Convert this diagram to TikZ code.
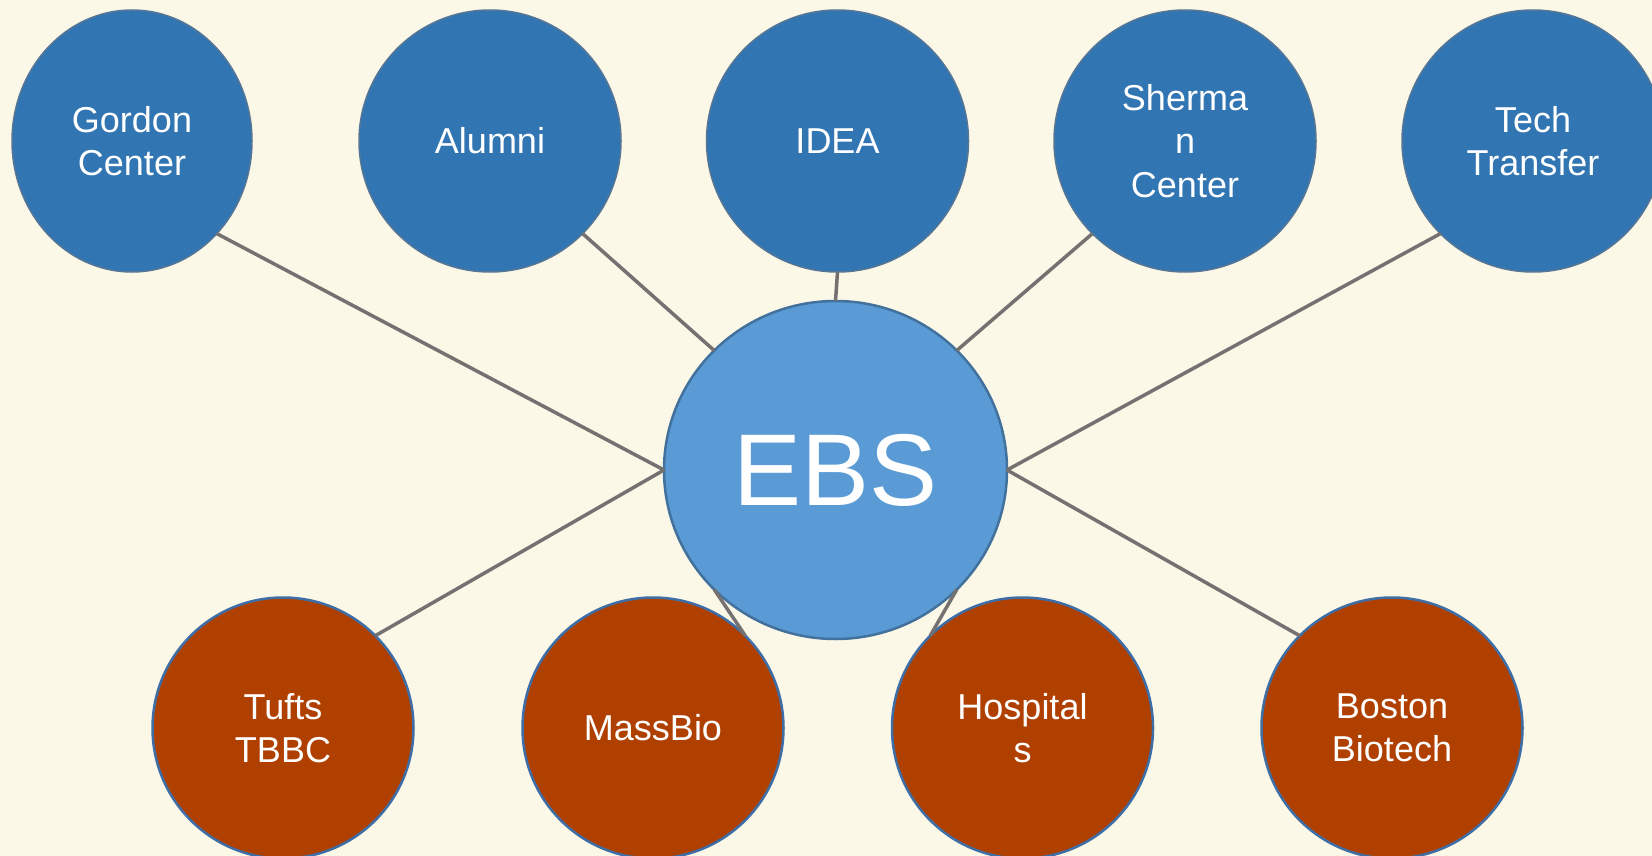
\documentclass[tikz,border=0pt]{standalone}
\usepackage{fontspec}
\setmainfont{Liberation Sans}
\usetikzlibrary{shapes.geometric}
\definecolor{bgcream}{RGB}{252,248,232}
\definecolor{topblue}{RGB}{49,117,178}
\definecolor{topedge}{RGB}{86,118,150}
\definecolor{ebsfill}{RGB}{91,155,213}
\definecolor{ebsedge}{RGB}{65,113,156}
\definecolor{botfill}{RGB}{176,64,0}
\definecolor{botedge}{RGB}{62,110,165}
\definecolor{linkgray}{RGB}{118,113,113}
\tikzset{
  bubble/.style={ellipse, inner sep=0pt, outer sep=0pt, text=white, align=center,
    font=\fontsize{36}{43.3}\selectfont},
  topnode/.style={bubble, fill=topblue, draw=topedge, line width=1.5pt,
    minimum width=262pt, minimum height=262pt},
  botnode/.style={bubble, fill=botfill, draw=botedge, line width=2.5pt,
    minimum width=261pt, minimum height=261pt},
  hubnode/.style={bubble, fill=ebsfill, draw=ebsedge, line width=2.5pt,
    minimum width=343pt, minimum height=338pt, font=\fontsize{102}{110}\selectfont},
  link/.style={draw=linkgray, line width=3.5pt}
}
\begin{document}
\begin{tikzpicture}[x=1pt,y=-1pt]
\useasboundingbox (0,0) rectangle (1652,856);
\clip (0,0) rectangle (1652,856);
\fill[bgcream] (0,0) rectangle (1652,856);

\node[hubnode] (ebs) at (835.5,470) {EBS};

\node[topnode, minimum width=240pt] (gordon) at (132,141) {Gordon\\Center};
\node[topnode] (alumni) at (490,141) {Alumni};
\node[topnode] (idea) at (837.5,141) {IDEA};
\node[topnode] (sherman) at (1185,141) {Sherma\\n\\Center};
\node[topnode] (tech) at (1533,141) {Tech\\Transfer};

\node[botnode] (tufts) at (283,728) {Tufts\\TBBC};
\node[botnode] (massbio) at (653,728) {MassBio};
\node[botnode] (hosp) at (1022.5,728) {Hospital\\s};
\node[botnode] (boston) at (1392,728) {Boston\\Biotech};

\draw[link] (gordon.south east) -- (ebs.west);
\draw[link] (alumni.south east) -- (ebs.north west);
\draw[link] (idea.south) -- (ebs.north);
\draw[link] (sherman.south west) -- (ebs.north east);
\draw[link] (tech.south west) -- (ebs.east);
\draw[link] (tufts.north east) -- (ebs.west);
\draw[link] (massbio.north east) -- (ebs.south west);
\draw[link] (hosp.north west) -- (ebs.south east);
\draw[link] (boston.north west) -- (ebs.east);
\end{tikzpicture}
\end{document}
